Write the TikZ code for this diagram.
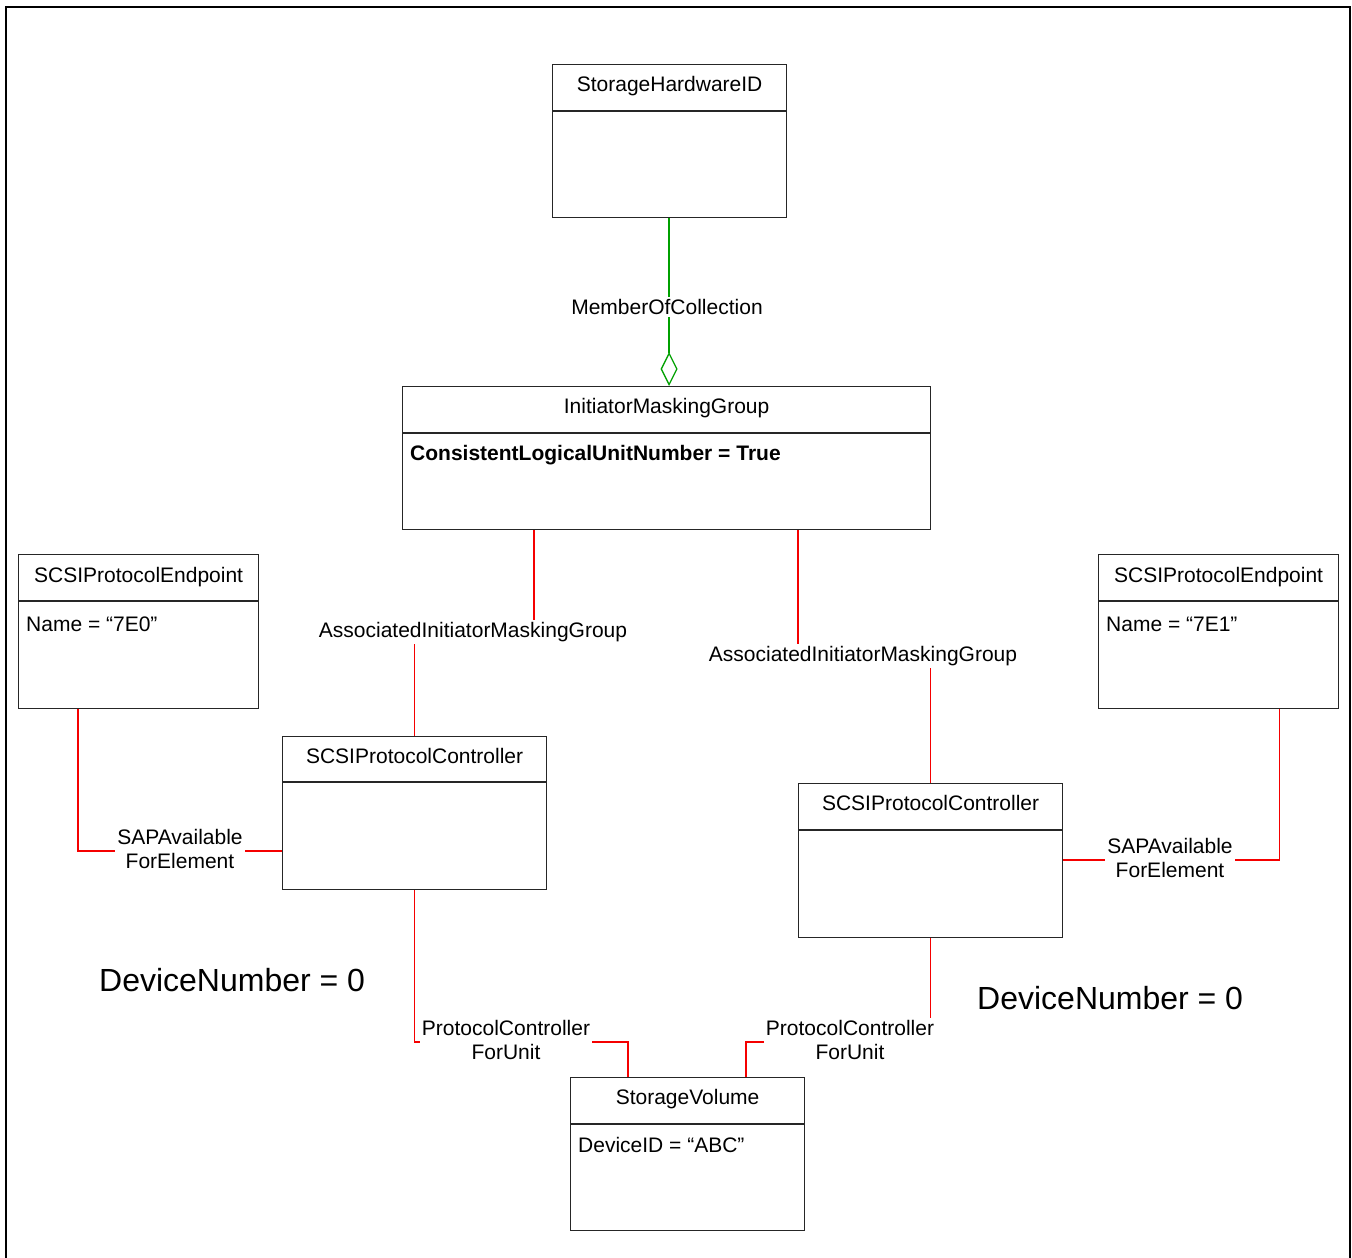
\documentclass[tikz,border=0pt]{standalone}
\usepackage{fontspec}
\setmainfont{Liberation Sans}
\usetikzlibrary{arrows.meta,positioning,calc,backgrounds}
\definecolor{umlgreen}{RGB}{0,160,0}
\definecolor{umlred}{RGB}{245,0,0}

\begin{document}
\begin{tikzpicture}[x=1pt, y=-1pt,
    umlbox/.style={rectangle, draw=black!85, line width=1.2pt, inner sep=0pt,
        anchor=north west},
    divider/.style={draw=black!85, line width=1.2pt},
    title/.style={anchor=base, inner sep=0pt, font=\fontsize{21}{24}\selectfont},
    attr/.style={anchor=base west, inner sep=0pt, font=\fontsize{21}{24}\selectfont},
    assoc/.style={fill=white, inner sep=2pt, align=center,
        font=\fontsize{21}{24}\selectfont},
    devnum/.style={anchor=base west, inner sep=0pt, font=\fontsize{32}{36}\selectfont},
    rline/.style={draw=umlred, line width=1.1pt},
    gline/.style={draw=umlgreen, line width=1.3pt}
]
    \useasboundingbox (0,0) rectangle (1352,1258);
    \draw[line width=2.5pt] (6,1262) -- (6,7) -- (1350,7) -- (1350,1262);

    % classes
    \node[umlbox, minimum width=234pt, minimum height=153pt] (shid) at (552,64) {};
    \node[umlbox, minimum width=528pt, minimum height=143pt] (img)  at (402,386) {};
    \node[umlbox, minimum width=240pt, minimum height=154pt] (spel) at (18,554) {};
    \node[umlbox, minimum width=240pt, minimum height=154pt] (sper) at (1098,554) {};
    \node[umlbox, minimum width=264pt, minimum height=153pt] (spcl) at (282,736) {};
    \node[umlbox, minimum width=264pt, minimum height=154pt] (spcr) at (798,783) {};
    \node[umlbox, minimum width=234pt, minimum height=153pt] (sv)   at (570,1077) {};

    \draw[divider] ([yshift=-47pt]shid.north west) -- ([yshift=-47pt]shid.north east);
    \draw[divider] ([yshift=-47pt]img.north west)  -- ([yshift=-47pt]img.north east);
    \draw[divider] ([yshift=-47pt]spel.north west) -- ([yshift=-47pt]spel.north east);
    \draw[divider] ([yshift=-47pt]sper.north west) -- ([yshift=-47pt]sper.north east);
    \draw[divider] ([yshift=-46pt]spcl.north west) -- ([yshift=-46pt]spcl.north east);
    \draw[divider] ([yshift=-47pt]spcr.north west) -- ([yshift=-47pt]spcr.north east);
    \draw[divider] ([yshift=-47pt]sv.north west)   -- ([yshift=-47pt]sv.north east);

    \node[title] (shidt) at ([yshift=-27pt]shid.north) {StorageHardwareID};
    \node[title] (imgt)  at ([yshift=-27pt]img.north)  {InitiatorMaskingGroup};
    \node[title] (spelt) at ([yshift=-28pt]spel.north) {SCSIProtocolEndpoint};
    \node[title] (spert) at ([yshift=-28pt]sper.north) {SCSIProtocolEndpoint};
    \node[title] (spclt) at ([yshift=-27pt]spcl.north) {SCSIProtocolController};
    \node[title] (spcrt) at ([yshift=-27pt]spcr.north) {SCSIProtocolController};
    \node[title] (svt)   at ([yshift=-27pt]sv.north)   {StorageVolume};

    \node[attr] (imga) at ([xshift=8pt,yshift=-74pt]img.north west)
        {\bfseries ConsistentLogicalUnitNumber = True};
    \node[attr] (spela) at ([xshift=8pt,yshift=-77pt]spel.north west) {Name = “7E0”};
    \node[attr] (spera) at ([xshift=8pt,yshift=-77pt]sper.north west) {Name = “7E1”};
    \node[attr] (sva)   at ([xshift=8pt,yshift=-75pt]sv.north west)   {DeviceID = “ABC”};

    % association labels
    \node[assoc] (mocl)  at (667,307)  {MemberOfCollection};
    \node[assoc] (aimgl) at (473,632)  {AssociatedInitiatorMaskingGroup};
    \node[assoc] (aimgr) at (863,656)  {AssociatedInitiatorMaskingGroup};
    \node[assoc] (sapl)  at (180,849)  {SAPAvailable\\ForElement};
    \node[assoc] (sapr)  at (1170,858) {SAPAvailable\\ForElement};
    \node[assoc] (pcful) at (506,1040) {ProtocolController\\ForUnit};
    \node[assoc] (pcfur) at (850,1040) {ProtocolController\\ForUnit};
    \coordinate (saplm)  at ($(sapl.center)+(0,2)$);
    \coordinate (saprm)  at ($(sapr.center)+(0,2)$);
    \coordinate (pcfulm) at ($(pcful.center)+(0,2)$);
    \coordinate (pcfurm) at ($(pcfur.center)+(0,2)$);
    \coordinate (mocltop) at ([xshift=-0.5pt]shid.south);

    \node[devnum] (devl) at (99,991)  {DeviceNumber = 0};
    \node[devnum] (devr) at (977,1009) {DeviceNumber = 0};

    % associations
    \begin{scope}[on background layer]
        \draw[gline] (mocltop) -- (mocltop |- mocl.north);
        \draw[gline, -{Diamond[open, length=34pt, width=17pt]}]
            (mocltop |- mocl.south) -- (mocltop |- img.north);
        \draw[rline] ([xshift=132pt]img.south west) |- (aimgl.center) -| (spcl.north);
        \draw[rline] ([xshift=396pt]img.south west) |- (aimgr.center) -| (spcr.north);
        \draw[rline] ([xshift=60pt]spel.south west) |- (saplm) -- (saplm -| spcl.west);
        \draw[rline] ([xshift=-60pt]sper.south east) |- (saprm) -- (saprm -| spcr.east);
        \draw[rline] (spcl.south) |- (pcfulm) -| ([xshift=58pt]sv.north west);
        \draw[rline] (spcr.south) |- (pcfurm) -| ([xshift=176pt]sv.north west);
    \end{scope}
\end{tikzpicture}
\end{document}
